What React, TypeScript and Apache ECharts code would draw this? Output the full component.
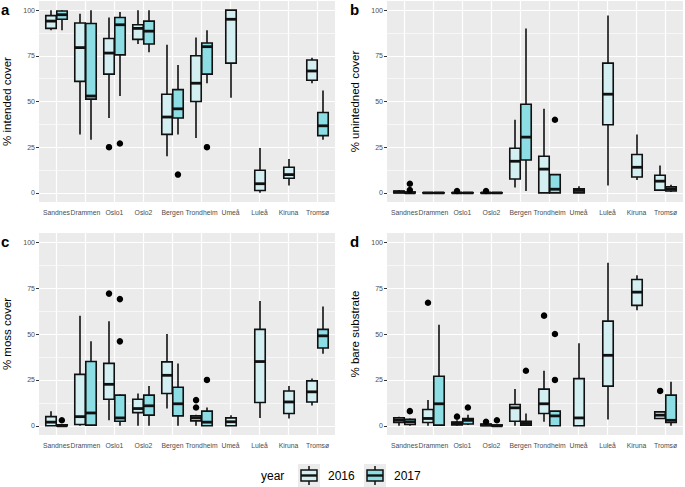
import React, { useEffect, useRef } from "react";
import * as echarts from "echarts";

const sites = ["Sandnes", "Drammen", "Oslo1", "Oslo2", "Bergen", "Trondheim", "Umeå", "Luleå", "Kiruna", "Tromsø"];
const years = ["2016", "2017"];
const yTicks = [0, 25, 50, 75, 100];
const yMinorTicks = [12.5, 37.5, 62.5, 87.5];

// box stats: [min, q1, median, q3, max]
const intended2016 = [
  [89, 90, 94, 97, 100], [32, 61, 79.5, 93, 98], [41, 65, 76.5, 84.5, 96], [81.5, 84, 90, 92, 100],
  [20, 32, 41.5, 54, 81], [30, 50, 60, 75, 85], [52, 71, 95, 100, 100], [0, 1.3, 5, 12.4, 24.5],
  [4, 8, 10, 14, 18.5], [60, 61.6, 66.7, 72.7, 74],
];
const intended2017 = [
  [89, 95, 97.5, 99.5, 100], [29, 51.3, 53, 92.7, 100], [53, 75.5, 92, 96, 99], [77, 81.5, 88.5, 94, 100],
  [32, 41, 46, 56.5, 70], [60, 65, 80, 82, 89], null, null, null, [29, 31.3, 36.7, 44, 56],
];
// outliers: [siteIndex, yearIndex, value]
const intendedOutliers = [[2, 0, 25], [2, 1, 27], [4, 1, 10], [5, 1, 25]];

const unintended2016 = [
  [0, 0, 0.5, 1, 1.5], [0, 0, 0, 0, 0], [0, 0, 0, 0, 0], [0, 0, 0, 0, 0],
  [3, 7.6, 17.3, 24.4, 40], [0, 0, 13, 20, 46], [0, 0, 1.3, 2.2, 3.6], [4, 37.3, 54, 71, 97],
  [7, 8.7, 14, 21, 32], [1, 1.5, 6.4, 9.6, 15],
];
const unintended2017 = [
  [0, 0, 0, 0.5, 1], [0, 0, 0, 0, 0], [0, 0, 0, 0, 0], [0, 0, 0, 0, 0],
  [1, 18, 30.5, 48.5, 90], [0, 0, 2, 10, 10], null, null, null, [0.5, 1, 2, 3.3, 4.5],
];
const unintendedOutliers = [[0, 1, 5], [0, 1, 1.5], [2, 0, 1], [3, 0, 1], [5, 1, 40]];

const moss2016 = [
  [0, 0, 2, 5, 8], [0, 0.7, 5, 28, 60], [3, 14.5, 22.6, 34, 57], [0, 7.2, 9.4, 14.5, 17.6],
  [9.4, 17.6, 27.5, 34.8, 50], [0, 2.7, 4.3, 5.4, 6], [0, 0, 2.2, 4.3, 5.8], [4.3, 12.7, 35, 52.5, 68],
  [4, 6.7, 13, 19, 21.7], [11, 13, 18.5, 24.5, 25.7],
];
const moss2017 = [
  [0, 0, 0, 0.5, 0.5], [0, 0.4, 7, 35, 46], [0, 2.5, 4.3, 16.7, 17], [0, 5.8, 10.9, 16.7, 21.7],
  [0, 5.4, 12, 21, 34], [0, 0, 2, 8, 10], null, null, null, [39.3, 42.4, 49, 52.5, 65],
];
const mossOutliers = [[0, 1, 3], [2, 0, 72], [2, 1, 69], [2, 1, 46], [5, 0, 14], [5, 0, 10], [5, 1, 25]];

const bare2016 = [
  [0, 1.8, 3, 4.3, 5], [0, 1.8, 4, 8.9, 14], [0, 0.5, 1.5, 2, 3], [0, 0, 0.5, 1, 1],
  [0, 2.5, 9.8, 11.6, 20], [2.2, 6.7, 12, 20, 30], [0, 0, 4.3, 25.7, 45], [3.4, 21.6, 38.4, 57, 88.8],
  [63, 65.6, 72.8, 79.7, 82], [4, 4, 5.8, 7.6, 7.6],
];
const bare2017 = [
  [0, 0.7, 2.2, 3.6, 4], [0, 0.4, 12, 27, 55], [0.4, 1, 3, 4, 6], [0, 0, 0, 0.5, 0.5],
  [0, 0.4, 1.3, 2.5, 6.7], [0, 0, 5.4, 8, 8], null, null, null, [0, 1.8, 3, 16.7, 24],
];
const bareOutliers = [[0, 1, 8], [1, 0, 67], [2, 0, 5], [2, 1, 10], [3, 0, 2.2], [3, 1, 3], [4, 1, 30], [5, 0, 60], [5, 1, 50], [5, 1, 25], [9, 0, 19]];

const panels = [
  { letter: "a", title: "% intended cover", s2016: intended2016, s2017: intended2017, outliers: intendedOutliers },
  { letter: "b", title: "% unintedned cover", s2016: unintended2016, s2017: unintended2017, outliers: unintendedOutliers },
  { letter: "c", title: "% moss cover", s2016: moss2016, s2017: moss2017, outliers: mossOutliers },
  { letter: "d", title: "% bare substrate", s2016: bare2016, s2017: bare2017, outliers: bareOutliers },
];

const FONT = "'Liberation Sans', Arial, Helvetica, sans-serif";
const FILLS = ["#D3EFF2", "#8CDDE4"];
const STROKE = "#111";
const LABEL_COLOR = "#4d4d4d";
const PANEL_BG = "#EBEBEB";
const DODGE = 0.1875;
const BOX_W = 0.36;
const Y_MIN = -5;
const Y_MAX = 105;

const gridRects = [
  { left: 37, top: 1, width: 298, height: 201 },
  { left: 387, top: 1, width: 296, height: 201 },
  { left: 37, top: 233, width: 298, height: 202 },
  { left: 387, top: 233, width: 296, height: 202 },
];

function xPos(site: number, year: number, s2017: any[]) {
  const both = s2017[site] != null;
  return site + 1 + (both ? (year === 0 ? -DODGE : DODGE) : 0);
}

function renderBox(params: any, api: any) {
  const x = api.value(0);
  const yr = api.value(6);
  const pMin = api.coord([x, api.value(1)]);
  const pQ1 = api.coord([x, api.value(2)]);
  const pMed = api.coord([x, api.value(3)]);
  const pQ3 = api.coord([x, api.value(4)]);
  const pMax = api.coord([x, api.value(5)]);
  const cx = Math.round(pMed[0]);
  const hw = api.size([BOX_W, 0])[0] / 2;
  const lw = 1.6;
  return {
    type: "group",
    children: [
      { type: "line", shape: { x1: cx, y1: pMax[1], x2: cx, y2: pQ3[1] }, style: { stroke: STROKE, lineWidth: lw } },
      { type: "line", shape: { x1: cx, y1: pQ1[1], x2: cx, y2: pMin[1] }, style: { stroke: STROKE, lineWidth: lw } },
      {
        type: "rect",
        shape: { x: cx - hw, y: pQ3[1], width: hw * 2, height: Math.max(pQ1[1] - pQ3[1], 0.01) },
        style: { fill: FILLS[yr], stroke: STROKE, lineWidth: lw },
      },
      { type: "line", shape: { x1: cx - hw, y1: pMed[1], x2: cx + hw, y2: pMed[1] }, style: { stroke: STROKE, lineWidth: 2.8 } },
    ],
  };
}

function renderSiteLabel(params: any, api: any) {
  const x = api.value(0);
  const pt = api.coord([x, Y_MIN]);
  return {
    type: "text",
    x: pt[0],
    y: pt[1] + 7,
    style: {
      text: sites[Math.round(x) - 1],
      fill: LABEL_COLOR,
      font: `6.8px ${FONT}`,
      textAlign: "center",
      textVerticalAlign: "top",
    },
  };
}

export default function App() {
  const ref = useRef<HTMLDivElement>(null);
  useEffect(() => {
    if (!ref.current) return;
    const chart = echarts.init(ref.current, undefined, { renderer: "svg" });
    const siteTicks = sites.map((_, i) => i + 1);

    const grid: any[] = [];
    const xAxis: any[] = [];
    const yAxis: any[] = [];
    const series: any[] = [];
    const graphic: any[] = [];

    panels.forEach((p, i) => {
      grid.push({ ...gridRects[i], show: true, backgroundColor: PANEL_BG, borderWidth: 0, containLabel: false });
      xAxis.push({
        type: "value",
        gridIndex: i,
        min: 0.4,
        max: 10.6,
        axisLine: { show: false },
        axisTick: { show: true, length: 3, lineStyle: { color: "#333", width: 1 }, customValues: siteTicks },
        axisLabel: { show: false, customValues: siteTicks },
        splitLine: { show: false },
      });
      yAxis.push({
        type: "value",
        gridIndex: i,
        min: Y_MIN,
        max: Y_MAX,
        name: p.title,
        nameLocation: "middle",
        nameGap: 26,
        nameTextStyle: { fontSize: 11.5, color: "#000", fontFamily: FONT },
        axisLine: { show: false, lineStyle: { color: LABEL_COLOR } },
        axisTick: { show: true, length: 3, lineStyle: { color: "#333", width: 1 }, customValues: yTicks },
        axisLabel: { customValues: yTicks, fontSize: 7, color: LABEL_COLOR, margin: 4, fontFamily: FONT },
        splitLine: { show: false },
      });

      // grid lines via library scales
      series.push({
        type: "scatter",
        xAxisIndex: i,
        yAxisIndex: i,
        data: [],
        z: 1,
        silent: true,
        markLine: {
          z: 1,
          silent: true,
          symbol: ["none", "none"],
          label: { show: false },
          emphasis: { disabled: true },
          animation: false,
          data: [
            ...yMinorTicks.map((v) => ({ yAxis: v, lineStyle: { color: "#fff", width: 0.6, type: "solid" } })),
            ...yTicks.map((v) => ({ yAxis: v, lineStyle: { color: "#fff", width: 1.2, type: "solid" } })),
            ...siteTicks.map((v) => ({ xAxis: v, lineStyle: { color: "#fff", width: 1.2, type: "solid" } })),
          ],
        },
      });

      // category labels under the panel, placed with the x scale
      series.push({
        type: "custom",
        xAxisIndex: i,
        yAxisIndex: i,
        z: 5,
        silent: true,
        clip: false,
        renderItem: renderSiteLabel,
        data: siteTicks.map((v) => [v, Y_MIN]),
      });

      const boxData: any[] = [];
      [p.s2016, p.s2017].forEach((arr: any[], yr) => {
        arr.forEach((s: any, site: number) => {
          if (!s) return;
          boxData.push([xPos(site, yr, p.s2017), ...s, yr]);
        });
      });
      series.push({
        type: "custom",
        xAxisIndex: i,
        yAxisIndex: i,
        z: 3,
        silent: true,
        renderItem: renderBox,
        encode: { x: 0, y: [1, 2, 3, 4, 5] },
        data: boxData,
      });
      series.push({
        type: "scatter",
        xAxisIndex: i,
        yAxisIndex: i,
        z: 4,
        silent: true,
        symbol: "circle",
        symbolSize: 6.5,
        itemStyle: { color: "#000", opacity: 1 },
        data: p.outliers.map((o) => [xPos(o[0], o[1], p.s2017), o[2]]),
      });

      graphic.push({
        type: "text",
        left: i % 2 === 0 ? 1 : 350,
        top: i < 2 ? 2 : 234,
        style: { text: p.letter, font: `bold 15px ${FONT}`, fill: "#000" },
      });
    });

    // legend
    const legY = 464;
    graphic.push({ type: "text", x: 261, y: 476, style: { text: "year", font: `12px ${FONT}`, fill: "#000", textVerticalAlign: "middle" } });
    [298, 364].forEach((kx, yr) => {
      graphic.push({ type: "rect", shape: { x: kx, y: legY, width: 22, height: 23 }, style: { fill: PANEL_BG } });
      graphic.push({ type: "line", shape: { x1: kx + 11, y1: legY + 2, x2: kx + 11, y2: legY + 21 }, style: { stroke: STROKE, lineWidth: 1.5 } });
      graphic.push({ type: "rect", shape: { x: kx + 3, y: legY + 6, width: 16, height: 11 }, style: { fill: FILLS[yr], stroke: STROKE, lineWidth: 1.5 } });
      graphic.push({ type: "line", shape: { x1: kx + 3, y1: legY + 11.5, x2: kx + 19, y2: legY + 11.5 }, style: { stroke: STROKE, lineWidth: 2.4 } });
      graphic.push({ type: "text", x: kx + 30, y: 476, style: { text: years[yr], font: `12px ${FONT}`, fill: "#000", textVerticalAlign: "middle" } });
    });

    chart.setOption({
      animation: false,
      textStyle: { fontFamily: FONT, color: LABEL_COLOR },
      grid,
      xAxis,
      yAxis,
      series,
      graphic,
    });
    return () => chart.dispose();
  }, []);
  return <div ref={ref} style={{ position: "absolute", left: 0, top: 0, width: 685, height: 487 }} />;
}
